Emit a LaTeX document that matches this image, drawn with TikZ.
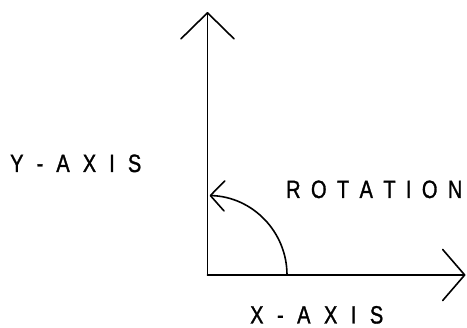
\documentclass[tikz,border=0pt]{standalone}
\usepackage{fontspec}
\newfontfamily\plotfont[FakeStretch=0.8,FakeBold=1.2]{Liberation Sans}
\usetikzlibrary{arrows.meta}
\newcommand\lsp[2]{\def\lspk{\kern#1}\lspA#2\relax}
\def\lspA#1{\ifx#1\relax\else#1\lspk\expandafter\lspA\fi}
\tikzset{
  axis/.style={line width=1.6pt, line join=round, line cap=round},
  lbl/.style={inner sep=0pt, anchor=base west, font=\plotfont\fontsize{25}{25}\selectfont},
}
\begin{document}
\begin{tikzpicture}[x=1pt,y=1pt]
\useasboundingbox (0,0) rectangle (467,328);
\coordinate (O) at (207.5,53);
\coordinate (ytip) at (207.5,316);
\coordinate (xtip) at (465.5,53);
\coordinate (arcstart) at (287,53);
\draw[axis, -{Straight Barb[length=26pt,width=53pt,round]}] (O) -- (ytip);
\draw[axis, -{Straight Barb[length=22pt,width=51pt,round]}] (O) -- (xtip);
\draw[axis, -{Straight Barb[length=14pt,width=30pt,round]}] (arcstart) arc[start angle=0, end angle=88.5, radius=79.5pt];
\node[lbl] (ylab) at (10,156) {\lsp{13.1pt}{Y-AXIS}};
\node[lbl] (rlab) at (286,130) {\lsp{10.4pt}{ROTATION}};
\node[lbl] (xlab) at (250,4.5) {\lsp{13.5pt}{X-AXIS}};
\end{tikzpicture}
\end{document}
